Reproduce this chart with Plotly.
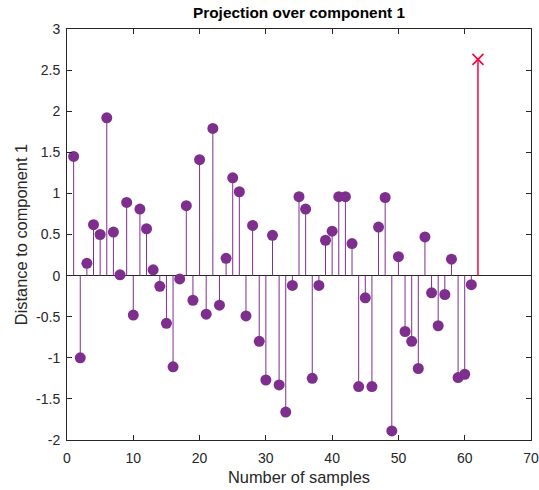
import plotly.graph_objects as go

# Projection of each sample onto component 1
sample_idx = list(range(1, 62))
projection = [
    1.45, -1.00, 0.15, 0.62, 0.50, 1.92, 0.53, 0.01, 0.89, -0.48,
    0.81, 0.57, 0.07, -0.13, -0.58, -1.11, -0.04, 0.85, -0.30, 1.41,
    -0.47, 1.79, -0.36, 0.21, 1.19, 1.02, -0.49, 0.61, -0.80, -1.27,
    0.49, -1.33, -1.66, -0.12, 0.96, 0.81, -1.25, -0.12, 0.43, 0.54,
    0.96, 0.96, 0.39, -1.35, -0.27, -1.35, 0.59, 0.95, -1.89, 0.23,
    -0.68, -0.80, -1.13, 0.47, -0.21, -0.61, -0.23, 0.20, -1.24, -1.20,
    -0.11,
]

# Newly projected sample
new_idx = [62]
new_projection = [2.63]

x_ticks = [0, 10, 20, 30, 40, 50, 60, 70]
y_ticks = [-2, -1.5, -1, -0.5, 0, 0.5, 1, 1.5, 2, 2.5, 3]
y_tick_text = ["-2", "-1.5", "-1", "-0.5", "0", "0.5", "1", "1.5", "2", "2.5", "3"]

PURPLE = "#7E2F8E"
RED = "#FF0040"
AX = "#262626"


def stem_xy(xs, ys):
    sx, sy = [], []
    for xv, yv in zip(xs, ys):
        sx += [xv, xv, None]
        sy += [0, yv, None]
    return sx, sy


fig = go.Figure()

sx, sy = stem_xy(sample_idx, projection)
fig.add_trace(go.Scatter(x=sx, y=sy, mode="lines",
                         line=dict(color=PURPLE, width=1), hoverinfo="skip",
                         showlegend=False))
fig.add_trace(go.Scatter(x=sample_idx, y=projection, mode="markers",
                         marker=dict(color=PURPLE, size=11, symbol="circle",
                                     line=dict(width=0)),
                         showlegend=False))

nx, ny = stem_xy(new_idx, new_projection)
fig.add_trace(go.Scatter(x=nx, y=ny, mode="lines",
                         line=dict(color=RED, width=1.5), hoverinfo="skip",
                         showlegend=False))
fig.add_trace(go.Scatter(x=new_idx, y=new_projection, mode="markers",
                         marker=dict(color=RED, size=11, symbol="x-thin",
                                     line=dict(color=RED, width=1.6)),
                         showlegend=False))

fig.update_layout(
    width=539, height=490,
    margin=dict(l=67, r=8, t=29, b=50),
    paper_bgcolor="white", plot_bgcolor="white",
    font=dict(family="Liberation Sans, Arial, sans-serif", size=14, color=AX),
    title=dict(text="<b>Projection over component 1</b>",
               x=(67 + 531) / 2 / 539, xanchor="center",
               y=1 - 13 / 490, yanchor="middle",
               font=dict(size=15.4, color="black")),
)

fig.update_xaxes(
    range=[0, 70], tickvals=x_ticks, ticktext=[str(v) for v in x_ticks],
    ticks="inside", ticklen=5, tickcolor=AX, tickwidth=1,
    ticklabelstandoff=5,
    showline=True, linecolor=AX, linewidth=1, mirror="ticks",
    showgrid=False, zeroline=False, automargin=False,
    title=dict(text="Number of samples", font=dict(size=16.4, color=AX), standoff=6),
)
fig.update_yaxes(
    range=[-2, 3], tickvals=y_ticks, ticktext=y_tick_text,
    ticks="inside", ticklen=5, tickcolor=AX, tickwidth=1,
    ticklabelstandoff=3,
    showline=True, linecolor=AX, linewidth=1, mirror="ticks",
    showgrid=False, zeroline=True, zerolinecolor=AX, zerolinewidth=1,
    automargin=False,
    title=dict(text="Distance to component 1", font=dict(size=16.4, color=AX), standoff=4),
)

fig.write_html("out.html")
